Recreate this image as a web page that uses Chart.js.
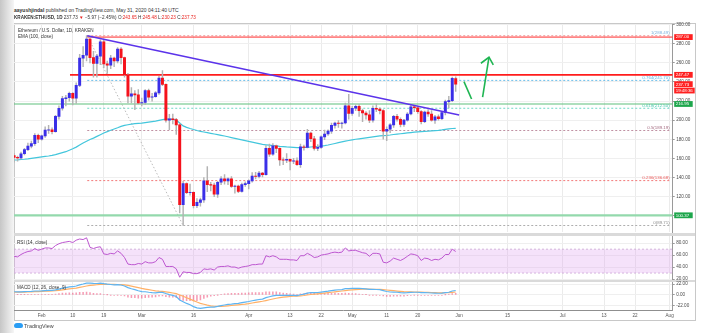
<!DOCTYPE html>
<html>
<head>
<meta charset="utf-8">
<script src="https://cdn.jsdelivr.net/npm/chart.js@4.4.1/dist/chart.umd.min.js"></script>
<style>
  body { margin: 0; background: #fff; font-family: 'Liberation Sans', Arial, sans-serif; }
  #wrap { position: relative; width: 707px; height: 333px; overflow: hidden; background: #fff; }
  #shade { position: absolute; left: 0; top: 0; width: 14px; height: 333px; background: linear-gradient(to right, #c6c6c6, #f6f6f6); }
  #frame { position: absolute; left: 14px; top: 23px; width: 680px; height: 296px; border: 1px solid #c8c8c8; }
  .sep { position: absolute; left: 14px; width: 681px; background: #dadada; }
  canvas { position: absolute; left: 14px; }
  .txt { position: absolute; white-space: nowrap; color: #333; }
  .r { color: #e8231f; }
  #logo { position: absolute; left: 14px; top: 323px; width: 9px; height: 5px; background: #2a9df4; border-radius: 3px 3px 2px 2px; }
</style>
</head>
<body>
<div id="wrap">
  <div id="shade"></div>
  <div id="frame"></div>
  <div class="sep" style="top:232.5px;height:3px"></div>
  <div class="sep" style="top:279.5px;height:2.5px"></div>
  <canvas id="price" width="681" height="214" style="top:20px"></canvas>
  <canvas id="rsi" width="681" height="50" style="top:232px"></canvas>
  <canvas id="macd" width="681" height="41" style="top:279px"></canvas>

  <div class="txt" style="left:14px;top:7px;font-size:5px"><b>aayushjindal</b> published on TradingView.com, May 31, 2020 04:11:40 UTC</div>
  <div class="txt" style="left:14px;top:15px;font-size:4.6px"><b>KRAKEN:ETHUSD, 1D</b> 237.73 <span class="r">▼</span> −5.97 (−2.45%) O:<span class="r">243.65</span> H:<span class="r">245.48</span> L:<span class="r">230.23</span> C:<span class="r">237.73</span></div>
  <div class="txt" style="left:18px;top:28px;font-size:4.6px">Ethereum / U.S. Dollar, 1D, KRAKEN</div>
  <div class="txt" style="left:18px;top:33.5px;font-size:4.6px">EMA (100, close)</div>
  <div class="txt" style="left:17px;top:239.5px;font-size:4.6px">RSI (14, close)</div>
  <div class="txt" style="left:17px;top:285px;font-size:4.6px">MACD (12, 26, close, 9)</div>
  <div id="logo"></div>
  <div class="txt" style="left:24px;top:323px;font-size:5.4px;color:#444">TradingView</div>
</div>

<script>
// daily candles, Jan 24 .. May 31 2020 (day 0 = Feb 1)
const firstDay = -8;

const open = [
  163.0, 161.0, 160.5, 164.8, 169.2, 172.8, 175.4, 184.0,
  180.0, 183.5, 189.5, 190.0, 188.0, 204.0, 212.5, 222.5, 223.5, 228.0, 223.0, 236.5, 265.0, 268.0, 285.0, 265.5, 259.5, 267.0, 282.0, 259.0, 257.5, 265.0, 262.0, 274.5, 265.5, 247.5, 225.0, 227.5, 226.5,
  218.0, 218.5, 231.0, 224.0, 224.5, 228.5, 244.0, 237.5, 200.0, 201.5, 200.5, 195.0, 111.5, 133.5, 124.0, 124.5, 110.5, 114.0, 116.5, 136.5, 132.5, 132.0, 122.5, 135.0, 138.5, 136.5, 138.5, 130.5, 131.0, 125.5, 132.5,
  133.5, 136.5, 141.5, 141.0, 144.5, 143.0, 170.5, 164.5, 173.0, 170.5, 158.5, 158.0, 159.0, 157.0, 157.5, 153.5, 172.0, 171.5, 186.5, 180.5, 170.5, 171.5, 182.5, 185.5, 188.5, 194.5, 197.0, 196.5, 197.0, 215.0,
  207.0, 212.5, 214.5, 210.0, 207.5, 205.5, 200.0, 212.5, 211.5, 210.0, 188.5, 190.5, 195.0, 204.0, 201.0, 195.5, 200.0, 206.5, 214.0, 213.0, 209.0, 198.5, 208.5, 206.5, 200.0, 203.5, 201.5, 208.0, 219.5, 220.5, 243.65
];
const high = [
  165.0, 162.5, 166.5, 170.5, 176.0, 178.0, 186.0, 185.5,
  184.5, 193.0, 194.5, 192.0, 205.0, 215.0, 225.0, 226.0, 229.5, 229.0, 239.0, 269.0, 277.0, 288.5, 288.0, 272.0, 269.0, 284.0, 285.0, 262.0, 268.0, 266.0, 276.0, 276.0, 266.0, 249.0, 234.0, 231.0, 232.0,
  223.0, 232.0, 232.5, 228.0, 230.0, 246.0, 252.0, 238.0, 206.0, 206.5, 202.0, 196.5, 136.0, 134.5, 133.0, 125.0, 118.0, 118.5, 140.0, 151.5, 135.0, 134.0, 136.0, 141.0, 143.0, 139.5, 141.0, 132.0, 132.0, 134.0, 135.5,
  137.5, 145.0, 145.5, 146.5, 145.5, 173.5, 175.0, 175.5, 174.0, 171.0, 160.5, 165.0, 159.5, 160.0, 160.5, 175.0, 174.0, 190.5, 187.5, 183.0, 174.5, 183.5, 189.5, 190.0, 197.0, 198.0, 199.5, 198.0, 218.0, 227.0,
  214.5, 216.0, 216.5, 211.5, 209.0, 210.0, 215.0, 217.0, 213.0, 211.0, 193.0, 196.5, 205.0, 206.0, 202.5, 201.0, 208.0, 216.0, 215.5, 214.0, 210.0, 209.5, 211.0, 210.0, 205.0, 205.5, 209.0, 221.0, 225.0, 245.0, 245.48
];
const low = [
  156.0, 157.0, 159.5, 163.5, 168.0, 171.0, 173.5, 176.5,
  179.0, 182.0, 186.0, 185.5, 187.5, 201.0, 210.5, 215.0, 220.0, 216.0, 217.5, 235.0, 256.0, 262.0, 260.0, 245.0, 245.0, 258.0, 255.0, 249.0, 254.0, 256.0, 260.0, 259.0, 245.0, 218.0, 218.0, 211.0, 217.0,
  215.0, 216.5, 221.0, 220.0, 224.0, 227.0, 236.0, 198.0, 190.0, 196.0, 185.0, 103.0, 89.71, 123.0, 121.5, 108.0, 108.5, 110.0, 114.0, 125.0, 126.0, 120.0, 119.0, 132.5, 133.0, 132.5, 129.5, 123.5, 124.0, 124.5, 130.5,
  128.0, 135.0, 138.5, 139.5, 140.5, 142.5, 162.0, 163.0, 166.0, 152.5, 153.5, 155.5, 148.0, 154.5, 152.5, 150.5, 168.5, 171.0, 177.5, 168.5, 168.0, 170.5, 179.5, 184.0, 186.0, 191.5, 192.5, 191.5, 196.0, 201.0,
  205.0, 210.0, 204.0, 198.5, 201.0, 197.5, 198.0, 209.0, 206.5, 180.0, 178.5, 187.0, 192.5, 199.0, 193.0, 193.5, 199.0, 205.5, 209.0, 207.0, 196.0, 197.5, 204.0, 199.0, 196.5, 200.0, 200.5, 205.5, 213.0, 219.5, 230.23
];
const close = [
  161.0, 160.5, 164.8, 169.2, 172.8, 175.4, 184.0, 180.0,
  183.5, 189.5, 190.0, 188.0, 204.0, 212.5, 222.5, 223.5, 228.0, 223.0, 236.5, 265.0, 268.0, 285.0, 265.5, 259.5, 267.0, 282.0, 259.0, 257.5, 265.0, 262.0, 274.5, 265.5, 247.5, 225.0, 227.5, 226.5, 218.0,
  218.5, 231.0, 224.0, 224.5, 228.5, 244.0, 237.5, 200.0, 201.5, 200.5, 195.0, 111.5, 133.5, 124.0, 124.5, 110.5, 114.0, 116.5, 136.5, 132.5, 132.0, 122.5, 135.0, 138.5, 136.5, 138.5, 130.5, 131.0, 125.5, 132.5, 133.5,
  136.5, 141.5, 141.0, 144.5, 143.0, 170.5, 164.5, 173.0, 170.5, 158.5, 158.0, 159.0, 157.0, 157.5, 153.5, 172.0, 171.5, 186.5, 180.5, 170.5, 171.5, 182.5, 185.5, 188.5, 194.5, 197.0, 196.5, 197.0, 215.0, 207.0,
  212.5, 214.5, 210.0, 207.5, 205.5, 200.0, 212.5, 211.5, 210.0, 188.5, 190.5, 195.0, 204.0, 201.0, 195.5, 200.0, 206.5, 214.0, 213.0, 209.0, 198.5, 208.5, 206.5, 200.0, 203.5, 201.5, 208.0, 219.5, 220.5, 243.7, 237.73
];
const ema100 = [
  158.3, 158.5, 158.8, 159.1, 159.5, 160.0, 160.5, 161.0,
  161.5, 162.0, 162.5, 163.2, 164.0, 165.0, 166.0, 167.0, 168.5, 170.0, 171.8, 174.0, 176.0, 178.0, 179.8, 181.2, 183.0, 184.8, 186.5, 188.0, 189.5, 190.8, 192.0, 193.5, 194.5, 195.2, 195.8, 196.3, 196.7,
  197.0, 197.5, 198.0, 198.5, 199.0, 199.8, 200.5, 201.0, 201.0, 200.8, 200.0, 197.0, 194.0, 192.5, 191.3, 190.2, 189.2, 188.3, 187.6, 186.9, 186.2, 185.5, 184.8, 184.1, 183.4, 182.6, 181.8, 181.0, 180.2, 179.4, 178.6,
  177.8, 177.0, 176.2, 175.4, 174.6, 174.2, 173.8, 173.4, 173.0, 172.6, 172.3, 172.0, 171.8, 171.6, 171.3, 171.3, 171.4, 171.6, 171.9, 172.2, 172.5, 172.9, 173.4, 174.0, 174.8, 175.6, 176.4, 177.2, 178.0, 178.7,
  179.4, 180.0, 180.5, 181.0, 181.5, 182.0, 182.5, 183.0, 183.5, 183.8, 184.1, 184.5, 185.0, 185.4, 185.8, 186.2, 186.6, 187.0, 187.4, 187.7, 188.0, 188.3, 188.5, 188.8, 189.1, 189.4, 189.8, 190.3, 190.8, 191.3, 191.5
];
const rsi14 = [
  58, 57, 61, 64, 66, 67, 71, 68,
  70, 72, 72, 71, 76, 79, 81, 82, 83, 81, 85, 87, 86, 89, 73, 71, 73, 74, 62, 61, 63, 62, 67, 63, 56, 45, 44, 44, 46,
  45, 49, 47, 47, 49, 56, 53, 41, 41, 41, 37, 23, 32, 31, 31, 29, 29, 31, 37, 36, 37, 35, 40, 41, 41, 42, 40, 40, 38, 40, 41,
  42, 44, 44, 45, 45, 59, 57, 59, 57, 53, 53, 53, 52, 52, 51, 59, 59, 63, 60, 56, 57, 60, 61, 62, 64, 65, 64, 65, 72, 67,
  68, 68, 66, 64, 63, 58, 63, 63, 62, 48, 47, 50, 55, 53, 51, 54, 58, 62, 61, 59, 51, 55, 54, 51, 53, 52, 55, 61, 61, 70, 66
];
const macdLine = [
  6.5, 6.2, 6.3, 6.6, 7.0, 7.3, 8.0, 8.0,
  8.3, 8.8, 9.1, 9.2, 10.5, 12.0, 13.8, 15.0, 16.3, 16.8, 18.2, 20.5, 22.3, 24.3, 24.0, 23.5, 23.4, 24.2, 23.0, 22.0, 21.4, 20.8, 21.0, 20.3, 18.4, 15.0, 12.6, 10.7, 8.5,
  6.8, 6.5, 5.4, 4.6, 4.1, 5.0, 5.2, 2.8, 0.7, -1.0, -3.2, -10.4, -14.0, -17.5, -20.3, -24.0, -26.5, -27.8, -26.5, -25.8, -25.0, -25.0, -23.7, -22.0, -20.8, -19.5, -18.8, -17.8, -17.3, -16.0, -14.8,
  -13.5, -12.0, -10.8, -9.5, -8.5, -5.5, -3.8, -2.0, -0.8, -0.8, -0.8, -0.8, -1.0, -1.0, -1.4, 0.3, 1.5, 3.7, 4.8, 4.8, 4.9, 5.8, 6.8, 7.7, 8.9, 10.0, 10.6, 11.0, 12.7, 13.0,
  13.3, 13.5, 13.3, 12.8, 12.2, 11.3, 11.3, 11.1, 10.7, 8.8, 7.0, 6.0, 5.8, 5.4, 4.6, 4.3, 4.5, 5.2, 5.5, 5.5, 4.6, 4.6, 4.4, 3.9, 3.7, 3.4, 3.6, 4.6, 5.5, 8.0, 9.0
];
const signalLine = [
  5.5, 5.7, 5.8, 5.9, 6.1, 6.3, 6.6, 6.9,
  7.2, 7.5, 7.8, 8.1, 8.6, 9.3, 10.2, 11.2, 12.2, 13.1, 14.1, 15.4, 16.8, 18.3, 19.4, 20.2, 20.8, 21.5, 21.8, 21.8, 21.7, 21.5, 21.4, 21.2, 20.6, 19.5, 18.1, 16.6, 15.0,
  13.4, 12.0, 10.7, 9.5, 8.4, 7.7, 7.2, 6.3, 5.2, 3.9, 2.5, -0.1, -2.9, -5.8, -8.7, -11.8, -14.7, -17.3, -19.2, -21.0, -22.5, -23.3, -23.6, -23.4, -23.0, -22.4, -21.8, -21.1, -20.4, -19.6, -18.8,
  -17.8, -16.6, -15.4, -14.2, -13.1, -11.6, -10.0, -8.4, -6.9, -5.7, -4.7, -3.9, -3.3, -2.8, -2.5, -1.9, -1.2, -0.2, 0.8, 1.6, 2.3, 3.0, 3.8, 4.6, 5.5, 6.4, 7.2, 8.0, 8.9, 9.7,
  10.4, 11.0, 11.4, 11.7, 11.8, 11.7, 11.6, 11.5, 11.4, 10.9, 10.1, 9.3, 8.6, 7.9, 7.3, 6.7, 6.3, 6.1, 6.0, 5.9, 5.6, 5.4, 5.2, 4.9, 4.7, 4.4, 4.3, 4.4, 4.6, 5.3, 6.0
];

// x axis ticks (days from Feb 1) and their labels
const xTickDays = [0, 9, 18, 29, 44, 60, 72, 81, 90, 100, 109, 121, 135, 151, 163, 172, 182];
const xTickLabels = ['Feb', '10', '19', 'Mar', '16', 'Apr', '13', '22', 'May', '11', '20', 'Jun', '15', 'Jul', '13', '22', 'Aug'];

// drawn levels
const levelRed = [287.00, 247.47];
const levelGreen = [216.95, 100.37];
const fibRatios = ['1', '0.764', '0.618', '0.5', '0.236', '0'];
const fibPrices = [288.49, 241.70, 212.50, 189.19, 136.68, 89.71];
const fibColors = ['#f09a9a', '#5cb6e6', '#5fd4bf', '#b98599', '#f06a6a', '#a5a5a5'];
const fibLabelColors = ['#7eb2de', '#5cb6e6', '#4cc7ae', '#a2687e', '#ec5a5a', '#8c8c8c'];
const trendLine = [{ x: 13.2, y: 288.5 }, { x: 121, y: 205.4 }];
const fibDiagonal = [{ x: 13.2, y: 288.49 }, { x: 41, y: 89.71 }];
const arrowDip = [{ x: 122.4, y: 240.3 }, { x: 124.6, y: 222.2 }];
const arrowUp = [{ x: 127.8, y: 224.0 }, { x: 129.65, y: 265.9 }];
const arrowHead = [{ x: 127.3, y: 259.6 }, { x: 129.65, y: 265.9 }, { x: 130.9, y: 257.8 }];

const xMin = -8.03, xMax = 182.9;
const days = close.map((c, i) => firstDay + i);
const pts = arr => arr.map((v, i) => ({ x: days[i], y: v }));
const hline = (v, from) => [{ x: from, y: v }, { x: xMax, y: v }];

Chart.defaults.font.family = "'Liberation Sans', Arial, sans-serif";
Chart.defaults.color = '#4a4a4a';
Chart.defaults.animation = false;
Chart.defaults.events = [];
Chart.defaults.plugins.legend.display = false;
Chart.defaults.plugins.tooltip.enabled = false;
Chart.defaults.elements.point.radius = 0;

function xScale(showLabels) {
    return {
        type: 'linear', min: xMin, max: xMax, offset: false,
        afterBuildTicks: s => { s.ticks = xTickDays.map(v => ({ value: v })); },
        grid: { color: '#ebebeb', drawTicks: false, offset: false },
        border: { display: showLabels, color: '#8f8f8f' },
        ticks: {
            display: showLabels, autoSkip: false, maxRotation: 0, padding: 3,
            font: { size: 4.6 }, color: '#555',
            callback: v => xTickLabels[xTickDays.indexOf(v)]
        },
        afterFit: s => { s.height = showLabels ? 10 : 0; s.paddingLeft = 0; s.paddingRight = 0; }
    };
}

function yScale(extra) {
    return Object.assign({
        position: 'right',
        grid: { color: '#efefef', tickLength: 2, tickColor: '#9a9a9a' },
        border: { color: '#9a9a9a' },
        ticks: { padding: 1.5, font: { size: 4.6 }, color: '#4a4a4a', includeBounds: false, stepSize: 20, callback: v => v.toFixed(2) },
        afterFit: s => { s.width = 22.3; s.paddingTop = 0; s.paddingBottom = 0; }
    }, extra);
}

// price tags on the right axis and fib labels
const priceLabels = {
    id: 'priceLabels',
    afterDraw(chart) {
        const ctx = chart.ctx, y = chart.scales.y, area = chart.chartArea;
        ctx.save();
        ctx.font = '4.4px "Liberation Sans", Arial, sans-serif';
        ctx.textAlign = 'right';
        ctx.textBaseline = 'alphabetic';
        fibPrices.forEach((p, i) => {
            ctx.fillStyle = fibLabelColors[i];
            ctx.fillText(fibRatios[i] + '(' + p.toFixed(2) + ')', area.right - 3, y.getPixelForValue(p) - 1.3);
        });
        const tags = [
            [287.00, '287.00', '#ff2020', 0],
            [247.47, '247.47', '#ff2020', 0],
            [237.73, '237.73', '#ff2020', 0],
            [237.73, '19:48:36', '#ff2020', 6.4],
            [216.95, '216.95', '#1ea64c', 0],
            [100.37, '100.37', '#1ea64c', 0]
        ];
        ctx.textAlign = 'left';
        ctx.textBaseline = 'middle';
        tags.forEach(t => {
            const py = y.getPixelForValue(t[0]) + t[3];
            const w = t[1].length > 6 ? 20.5 : 18.5;
            ctx.fillStyle = t[2];
            ctx.fillRect(area.right + 1.5, py - 2.9, w, 5.8);
            ctx.fillStyle = '#fff';
            ctx.fillText(t[1], area.right + 3, py + 0.2);
        });
        ctx.restore();
    }
};

const lineDs = (data, color, width, dash, order) => ({
    type: 'line', data, borderColor: color, borderWidth: width, borderDash: dash || [],
    pointRadius: 0, fill: false, order: order
});

const priceDatasets = [
    lineDs(arrowDip, '#1fb552', 1.6, null, 0),
    lineDs(arrowUp, '#1fb552', 1.6, null, 0),
    lineDs(arrowHead, '#1fb552', 1.6, null, 0),
    lineDs(trendLine, '#5b33ea', 1.5, null, 0),
    {
        type: 'bar', data: days.map((d, i) => ({ x: d, y: [open[i], close[i]] })),
        backgroundColor: close.map((c, i) => c >= open[i] ? '#3a2fe8' : '#f5121c'),
        barThickness: 2.3, grouped: false, order: 1
    },
    {
        type: 'bar', data: days.map((d, i) => ({ x: d, y: [low[i], high[i]] })),
        backgroundColor: '#b3b3b3', barThickness: 0.8, grouped: false, order: 2
    },
    lineDs(pts(ema100), '#43c6dc', 1.2, null, 3),
    lineDs(hline(levelRed[0], 13.2), '#ff2a2a', 1, null, 4),
    lineDs(hline(levelRed[1], 8.2), '#ff1c1c', 1.6, null, 4),
    lineDs(hline(levelGreen[0], xMin), '#5fbf7c', 1.2, null, 4),
    lineDs(hline(levelGreen[1], xMin), '#93d9ac', 2.2, null, 4),
    lineDs(fibDiagonal, '#ababab', 0.8, [1.5, 2], 5)
].concat(fibPrices.map((p, i) => lineDs([{ x: 13.2, y: p }, { x: 182, y: p }], fibColors[i], 0.9, [2, 2], 5)));

new Chart(document.getElementById('price'), {
    type: 'bar',
    data: { datasets: priceDatasets },
    options: {
        responsive: false,
        layout: { padding: { top: 4, bottom: 2, left: 0, right: 0 } },
        scales: { x: xScale(false), y: yScale({ min: 82.9, max: 300.7 }) }
    },
    plugins: [priceLabels]
});

new Chart(document.getElementById('rsi'), {
    type: 'line',
    data: {
        datasets: [
            lineDs(pts(rsi14), '#bd57d0', 1, null, 0),
            Object.assign(lineDs(hline(70, xMin), '#c9a6d3', 0.8, [2, 2], 1), { fill: '+1', backgroundColor: 'rgba(222,160,240,0.3)' }),
            lineDs(hline(30, xMin), '#c9a6d3', 0.8, [2, 2], 1)
        ]
    },
    options: {
        responsive: false,
        layout: { padding: { top: 4, bottom: 3, left: 0, right: 0 } },
        scales: { x: xScale(false), y: yScale({ min: 20, max: 92 }) }
    }
});

new Chart(document.getElementById('macd'), {
    type: 'bar',
    data: {
        datasets: [
            lineDs(pts(macdLine), '#5db4f2', 1.2, null, 0),
            lineDs(pts(signalLine), '#ffb066', 1.2, null, 0),
            {
                type: 'bar', data: days.map((d, i) => ({ x: d, y: macdLine[i] - signalLine[i] })),
                backgroundColor: 'rgba(240,90,130,0.6)', barThickness: 0.9, grouped: false, order: 1
            }
        ]
    },
    options: {
        responsive: false,
        layout: { padding: { top: 3, bottom: 0, left: 0, right: 0 } },
        scales: {
            x: xScale(true),
            y: yScale({
                min: -31, max: 26.5,
                afterBuildTicks: s => { s.ticks = [-22, 0, 22].map(v => ({ value: v })); }
            })
        }
    }
});
</script>
</body>
</html>
